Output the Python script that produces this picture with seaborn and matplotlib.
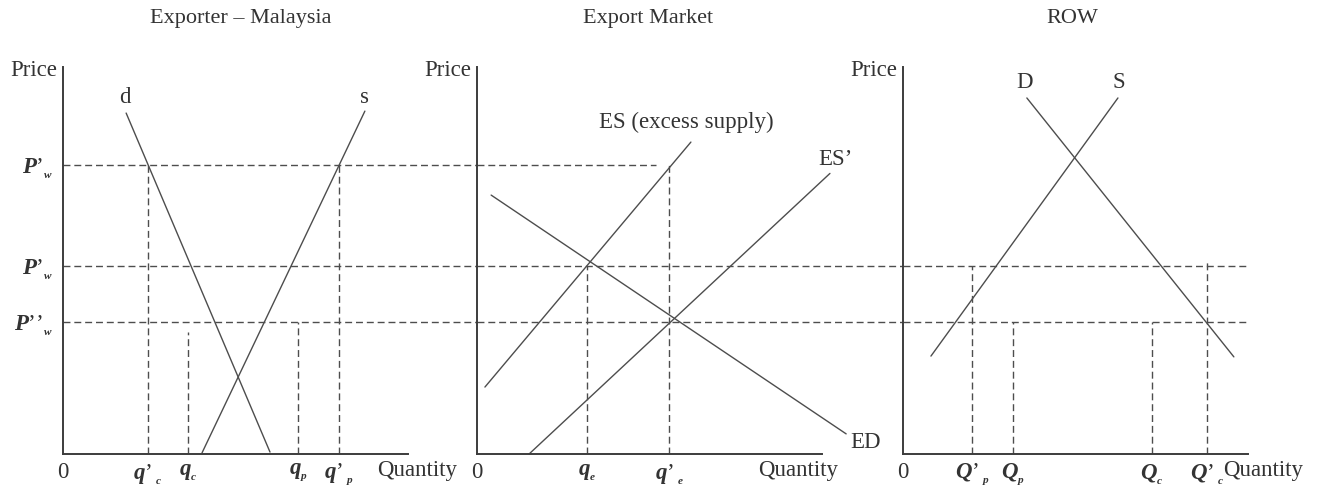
import numpy as np
import pandas as pd
import seaborn as sns
import matplotlib.pyplot as plt

# price levels shared by all three panels (P'w, P'w, P''w)
price_levels = [7.47, 4.86, 3.41]
price_labels = [r"$P{’}_{{}_w}$", r"$P{’}_{{}_w}$", r"$P{’’}_{{}_w}$"]

titles = ["Exporter – Malaysia", "Export Market", "ROW"]

# panel 1: Malaysia domestic market
p1_d = pd.DataFrame({"q": [1.83, 6.0], "p": [8.81, 0.05]})
p1_s = pd.DataFrame({"q": [4.03, 8.75], "p": [0.03, 8.86]})
p1_ticks = [0, 2.45, 3.62, 6.81, 8.0]
p1_ticklabels = ["0", r"$q{’}\,_{{}_c}$", r"$q_{{}_c}$", r"$q_{{}_p}$", r"$q{’}\,_{{}_p}$"]
p1_vdash = [(2.45, 7.47), (3.62, 3.15), (6.81, 3.41), (8.0, 7.47)]
p1_hdash_end = [12.0, 12.0, 12.0]

# panel 2: export market
p2_es = pd.DataFrame({"q": [0.23, 6.20], "p": [1.73, 8.06]})
p2_es2 = pd.DataFrame({"q": [1.51, 10.23], "p": [0.0, 7.25]})
p2_ed = pd.DataFrame({"q": [0.41, 10.70], "p": [6.69, 0.52]})
p2_ticks = [0, 3.19, 5.57]
p2_ticklabels = ["0", r"$q_{{}_e}$", r"$q{’}\,_{{}_e}$"]
p2_vdash = [(3.19, 4.86), (5.57, 7.47)]
p2_hdash_end = [5.2, 12.35, 12.35]

# panel 3: rest of world
p3_d = pd.DataFrame({"q": [3.59, 9.59], "p": [9.20, 2.51]})
p3_s = pd.DataFrame({"q": [0.81, 6.23], "p": [2.53, 9.20]})
p3_ticks = [0, 2.0, 3.19, 7.22, 8.81]
p3_ticklabels = ["0", r"$Q{’}\,_{{}_p}$", r"$Q_{{}_p}$", r"$Q_{{}_c}$", r"$Q{’}\,_{{}_c}$"]
p3_vdash = [(2.0, 4.86), (3.19, 3.41), (7.22, 3.41), (8.81, 4.95)]
p3_hdash_end = [0, 10.0, 10.0]

# curve labels
p1_text = [("d", 1.80, 9.2), ("s", 8.75, 9.2)]
p2_text = [("ES (excess supply)", 6.06, 8.58), ("ES’", 10.38, 7.60), ("ED", 11.25, 0.31)]
p3_text = [("D", 3.51, 9.59), ("S", 6.26, 9.59)]
quantity_x = [10.26, 9.30, 10.43]

sns.set_theme(style="white")
plt.rcParams["font.family"] = ["Liberation Serif", "DejaVu Serif"]
plt.rcParams["mathtext.fontset"] = "custom"
plt.rcParams["mathtext.rm"] = "Liberation Serif"
plt.rcParams["mathtext.it"] = "Liberation Serif:italic:bold"
plt.rcParams["mathtext.bf"] = "Liberation Serif:bold"

TXT = "#333333"
LN = "#4d4d4d"
FS = 16.5

fig = plt.figure(figsize=(13.18, 4.94), dpi=100)
W, H = 1318, 494
lefts = [63, 477, 903]
axes = [fig.add_axes([l / W, 40 / H, 345 / W, 387 / H]) for l in lefts]

curves = [[p1_d, p1_s], [p2_es, p2_es2, p2_ed], [p3_d, p3_s]]
ticks = [p1_ticks, p2_ticks, p3_ticks]
ticklabels = [p1_ticklabels, p2_ticklabels, p3_ticklabels]
vdash = [p1_vdash, p2_vdash, p3_vdash]
hdash = [p1_hdash_end, p2_hdash_end, p3_hdash_end]
texts = [p1_text, p2_text, p3_text]

for i, ax in enumerate(axes):
    ax.set_xlim(0, 10)
    ax.set_ylim(0, 10)
    ax.set_facecolor("none")
    for df in curves[i]:
        sns.lineplot(data=df, x="q", y="p", ax=ax, color=LN, lw=1.0,
                     sort=False, estimator=None)
    for ln in ax.lines:
        ln.set_clip_on(False)
    # horizontal guides, running across the gaps between panels
    for lvl, end in zip(price_levels, hdash[i]):
        if end > 0:
            ax.plot([0, end], [lvl, lvl], ls=(0, (5, 2.8)), color=LN,
                    lw=1.0, clip_on=False)
    for q, top in vdash[i]:
        ax.plot([q, q], [0, top], ls=(0, (5, 2.8)), color=LN, lw=1.0)
    for s, x, y in texts[i]:
        ax.text(x, y, s, ha="center", va="center", fontsize=FS, color=TXT,
                clip_on=False)

    ax.set_xticks(ticks[i])
    ax.set_xticklabels(ticklabels[i], fontsize=FS, color=TXT)
    if i == 0:
        ax.set_yticks(price_levels)
        ax.set_yticklabels(price_labels, fontsize=FS, color=TXT)
    else:
        ax.set_yticks([])
    ax.tick_params(axis="x", length=0, pad=6)
    ax.tick_params(axis="y", length=0, pad=7)
    ax.set_xlabel("")
    ax.set_ylabel("")

    for side in ["top", "right"]:
        ax.spines[side].set_visible(False)
    for side in ["left", "bottom"]:
        ax.spines[side].set_color("#3c3c3c")
        ax.spines[side].set_linewidth(1.4)

    ax.text(quantity_x[i], -0.042, "Quantity", transform=ax.get_xaxis_transform(),
            ha="center", va="center", fontsize=FS, color=TXT)
    ax.text(-0.017, 0.99, "Price", transform=ax.transAxes, ha="right",
            va="center", fontsize=FS, color=TXT)

title_x = [0.514, 0.497, 0.49]
for ax, t, tx in zip(axes, titles, title_x):
    ax.text(tx, 1.126, t, transform=ax.transAxes, ha="center",
            va="center", fontsize=FS - 0.5, color=TXT)

fig.savefig("out.png", dpi=100, facecolor="white")
